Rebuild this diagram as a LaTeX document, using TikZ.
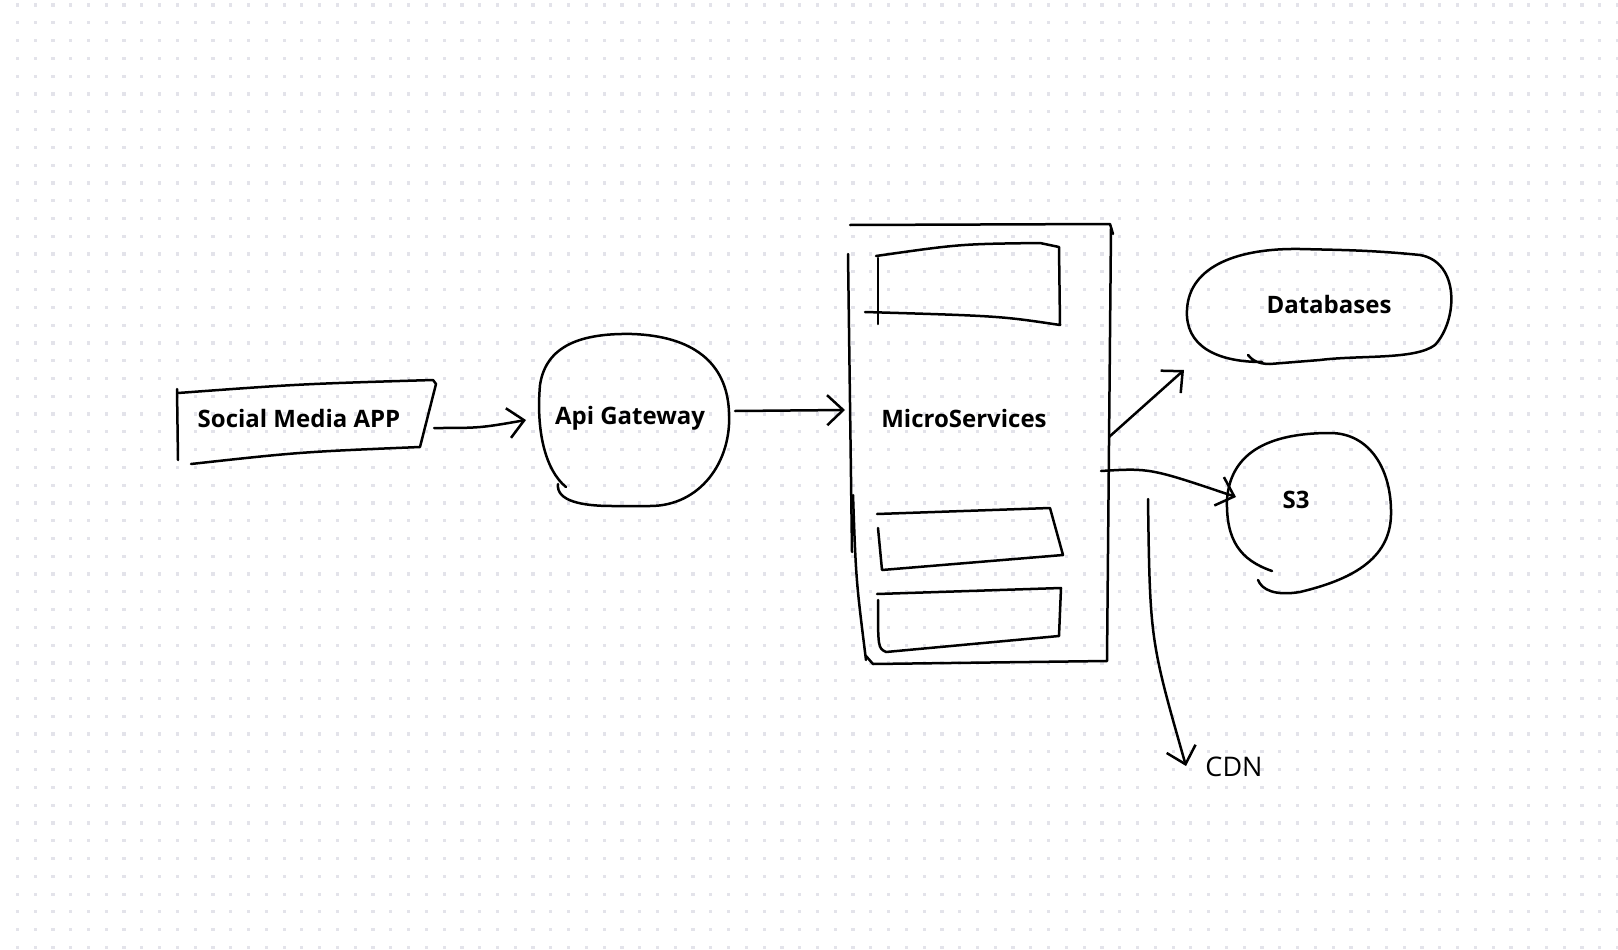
\documentclass[tikz,border=0pt]{standalone}
\usepackage{fontspec}
\setmainfont{Open Sans}
\usetikzlibrary{arrows.meta}
\definecolor{gridc}{HTML}{E3E3EA}
\tikzset{
  sketch/.style={line width=2.5pt, line cap=round, line join=round},
  hand/.style={sketch, -{Straight Barb[length=16pt,width=30pt,line width=2.5pt]}},
  lbl/.style={font=\fontsize{24}{27}\selectfont\bfseries},
}
\begin{document}
\begin{tikzpicture}[x=1pt, y=-1pt]
  \useasboundingbox (0,0) rectangle (1618,950);
  \fill[white] (0,0) rectangle (1618,950);
  % dotted paper
  \foreach \i in {0,...,90} \foreach \j in {0,...,53}
    \fill[gridc] ({15.8+17.78*\i},{3.5+17.78*\j}) rectangle ++(3.2,3.2);

  % social media app
  \draw[sketch] (177,389) -- (178,460);
  \draw[sketch] (178,393) .. controls (300,384) .. (433,380) -- (436,384) -- (420,447) .. controls (300,452) .. (191,464);
  \node[lbl] (app) at (299,418) {Social Media APP};

  % api gateway, a round blob
  \draw[sketch] (566,487) .. controls (545,470) and (536,430) .. (540,385) .. controls (546,345) and (582,333) .. (632,334)
    .. controls (692,336) and (727,362) .. (729,412) .. controls (732,462) and (700,506) .. (650,506) -- (612,506)
    .. controls (582,506) and (556,501) .. (558,484);
  \node[lbl] (gw) at (630,418) {Api Gateway};

  % microservices container and its three boxes
  \draw[sketch] (850,225) -- (1110,224) -- (1113,234);
  \draw[sketch] (1111,228) -- (1107,661) -- (873,664) -- (866,656);
  \draw[sketch] (848,254) -- (852,552);
  \draw[sketch] (853,495) .. controls (856,580) .. (866,660);
  \draw[sketch] (876,256) .. controls (960,244) .. (1040,243) -- (1059,247) -- (1060,325) .. controls (1000,316) .. (865,312);
  \draw[sketch] (878,258) -- (878,324);
  \draw[sketch] (877,514) -- (1050,508) -- (1063,555) -- (882,570) -- (878,528);
  \draw[sketch] (877,594) -- (1061,588) -- (1059,636) -- (886,652) .. controls (878,648) .. (878,600);
  \node[lbl] (ms) at (964,418) {MicroServices};

  % databases
  \draw[sketch] (1262,362) .. controls (1215,362) and (1185,345) .. (1187,310) .. controls (1189,265) and (1240,248) .. (1300,249)
    .. controls (1340,250) and (1370,250) .. (1420,255) .. controls (1460,262) and (1458,320) .. (1435,345)
    .. controls (1415,360) and (1360,355) .. (1320,360) -- (1270,364) .. controls (1258,364) and (1252,360) .. (1248,355);
  \node[lbl] (db) at (1329,304) {Databases};

  % s3
  \draw[sketch] (1272,571) .. controls (1240,560) and (1226,540) .. (1227,500) .. controls (1230,455) and (1265,433) .. (1330,433)
    .. controls (1370,433) and (1392,470) .. (1391,515) .. controls (1390,560) and (1350,580) .. (1300,592)
    .. controls (1275,596) and (1262,590) .. (1258,580);
  \node[lbl] (s3) at (1296,500) {S3};

  \node[font=\fontsize{27}{30}\selectfont] (cdn) at (1234,767) {CDN};

  % connectors
  \coordinate (app-out) at (434,428);
  \coordinate (gw-in) at (526,420);
  \coordinate (gw-out) at (735,411);
  \coordinate (ms-in) at (845,410);
  \coordinate (ms-db) at (1109,437);
  \coordinate (db-in) at (1184,370);
  \coordinate (ms-s3) at (1101,471);
  \coordinate (s3-in) at (1236,497);
  \coordinate (ms-cdn) at (1148,499);
  \coordinate (cdn-in) at (1186,766);
  \draw[hand] (app-out) .. controls (480,428) .. (gw-in);
  \draw[hand] (gw-out) -- (ms-in);
  \draw[hand] (ms-db) -- (db-in);
  \draw[hand] (ms-s3) .. controls (1150,468) .. (s3-in);
  \draw[hand] (ms-cdn) .. controls (1150,640) .. (cdn-in);
\end{tikzpicture}
\end{document}
